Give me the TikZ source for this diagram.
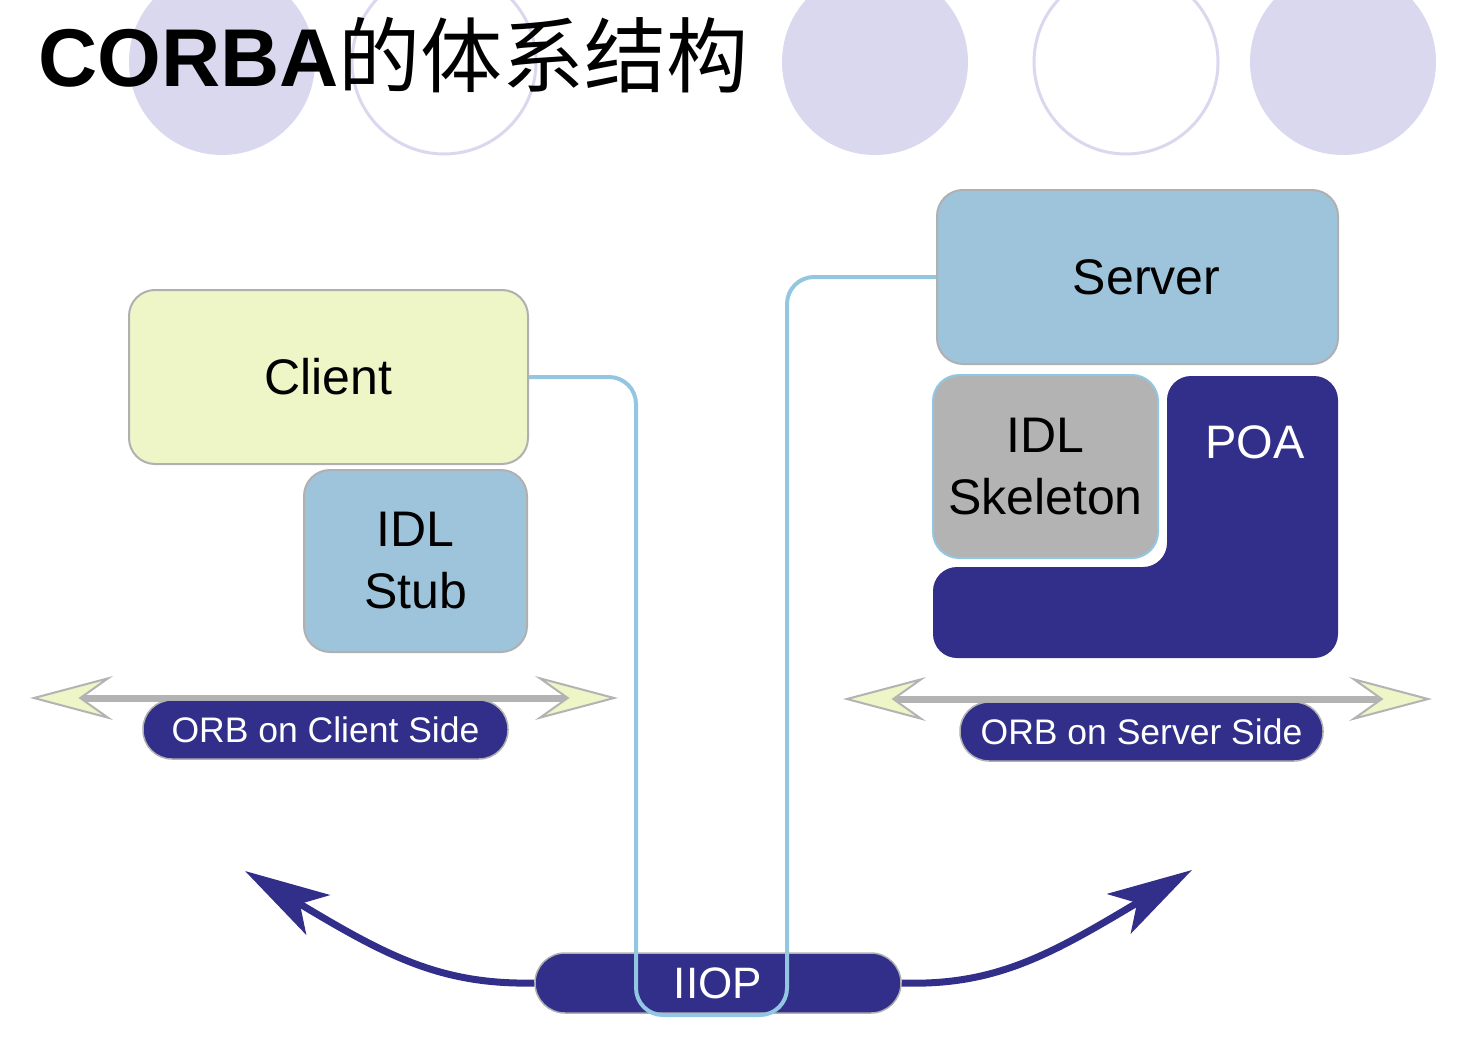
\documentclass[tikz,border=0pt]{standalone}
\usepackage{fontspec}
\setmainfont{Liberation Sans}
\newfontfamily\cjk{Noto Sans CJK SC}
\usetikzlibrary{arrows.meta,positioning}

\definecolor{lavender}{RGB}{217,216,238}
\definecolor{clientfill}{RGB}{238,245,198}
\definecolor{stubblue}{RGB}{158,196,220}
\definecolor{skelgray}{RGB}{179,179,179}
\definecolor{orbblue}{RGB}{49,47,137}
\definecolor{wireblue}{RGB}{147,198,224}
\definecolor{edgegray}{RGB}{176,176,176}

\tikzset{
  box/.style={draw=edgegray,line width=2pt,rounded corners=26pt,inner sep=0pt,
    align=center,font=\fontsize{50}{62}\selectfont},
  pill/.style={draw=edgegray,line width=1.5pt,fill=orbblue,text=white,
    rounded corners=29pt,minimum height=59pt,inner sep=0pt},
  conn/.style={wireblue,line width=4pt,rounded corners=27pt},
  orbarrow/.style={draw=skelgray,line width=7pt,
    {Stealth[length=83pt,width=44pt,inset=31pt,fill=clientfill,line width=2pt]}-{Stealth[length=83pt,width=44pt,inset=31pt,fill=clientfill,line width=2pt]}},
  iiarrow/.style={orbblue,line width=7pt,-{Stealth[length=85pt,width=46pt,inset=21pt]}}
}

\begin{document}
\begin{tikzpicture}[x=1pt,y=-1pt]
                \useasboundingbox (0,0) rectangle (1482,1038);
                \clip (0,0) rectangle (1482,1038);
                % circles behind the title
                \foreach \cx in {222,875,1343}
                    \fill[lavender] (\cx,62) circle (93pt);
                \foreach \cx in {444,1126}
                    \draw[lavender,line width=3pt] (\cx,62) circle (92pt);
                \node[anchor=base west,inner sep=0pt,font=\fontsize{82}{90}\selectfont] (title) at (38,87) {\textbf{CORBA}{\cjk 的体系结构}};
                % client side
                \node[box,fill=clientfill,minimum width=399pt,minimum height=174pt] (client) at (328.5,377) {Client};
                \node[box,fill=stubblue,minimum width=223pt,minimum height=182pt] (stub) at (415.5,561) {IDL\\Stub};
                % server side
                \node[box,fill=stubblue,minimum width=401pt,minimum height=174pt] (server) at (1137.5,277) {\hspace{18pt}Server};
                \fill[orbblue,rounded corners=24pt] (1167,376) -- (1338,376) -- (1338,658) -- (933,658) -- (933,567) -- (1167,567) -- cycle;
                \node[box,draw=wireblue,fill=skelgray,minimum width=225pt,minimum height=183pt] (skel) at (1045.5,466.5) {IDL\\Skeleton};
                \node[text=white,font=\fontsize{47}{56}\selectfont] (poa) at (1255,442) {POA};
                % ORB arrows and labels
                \coordinate (orbCa) at (30,698);
                \coordinate (orbCb) at (618,698);
                \coordinate (orbSa) at (843,699);
                \coordinate (orbSb) at (1432,699);
                \draw[orbarrow] (orbCa) -- (orbCb);
                \draw[orbarrow] (orbSa) -- (orbSb);
                \node[pill,minimum width=365pt,font=\fontsize{35.5}{40}\selectfont] (orbC) at (325.5,729.5) {ORB on Client Side\hspace{8pt}};
                \node[pill,minimum width=363pt,font=\fontsize{35.5}{40}\selectfont] (orbS) at (1141.5,731.5) {ORB on Server Side\hspace{4pt}};
                % IIOP and its arrows
                \node[pill,minimum width=366pt,minimum height=60pt,rounded corners=30pt,font=\fontsize{44}{50}\selectfont] (iiop) at (718,983) {IIOP};
                \coordinate (tipL) at (245,871);
                \coordinate (tipR) at (1192,870);
                \draw[iiarrow] (iiop.west) .. controls (440,985) and (385,955) .. (tipL);
                \draw[iiarrow] (iiop.east) .. controls (995,986) and (1050,955) .. (tipR);
                % wire from client to server
                \coordinate (bendL) at (636,1015);
                \coordinate (bendR) at (787,1015);
                \draw[conn] (client.east) -| (bendL) -- (bendR) |- (server.west);
            \end{tikzpicture}
\end{document}
